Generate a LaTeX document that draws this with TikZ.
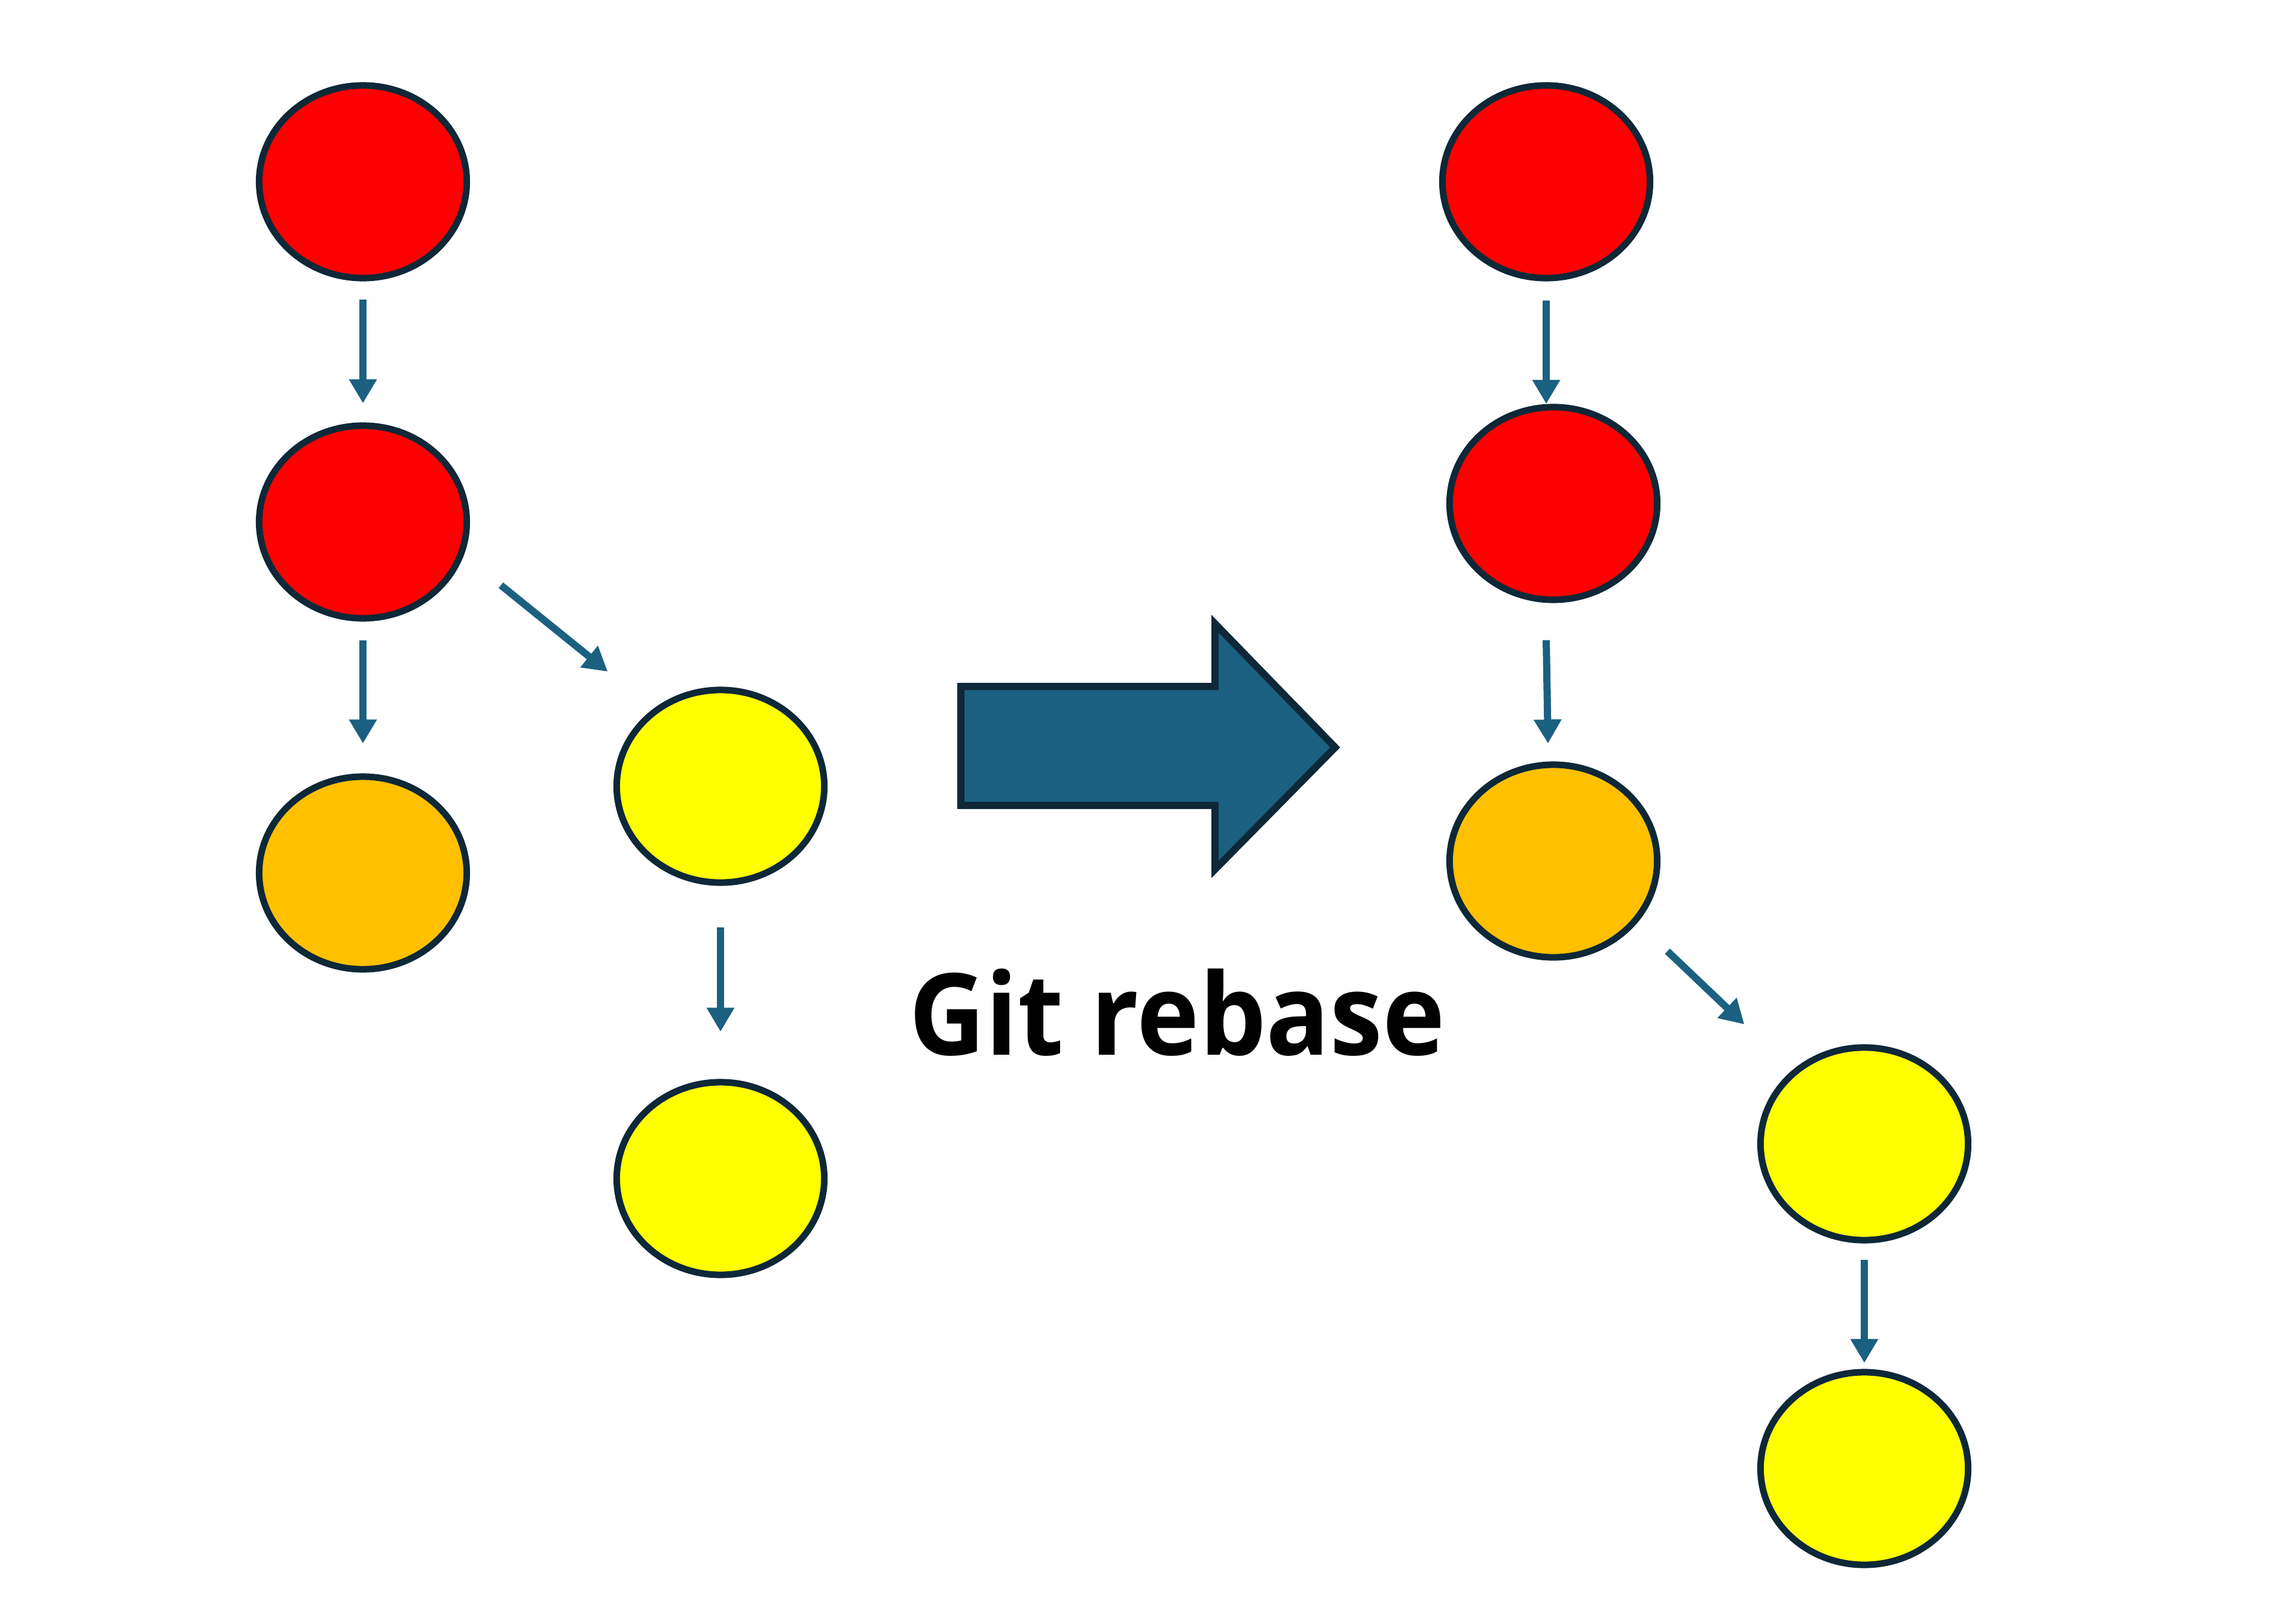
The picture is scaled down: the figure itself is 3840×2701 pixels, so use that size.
\documentclass[tikz,border=0pt]{standalone}
\usepackage{fontspec}
\newfontfamily\gitfont{Open Sans}[FakeStretch=0.93,BoldFeatures={FakeStretch=0.93}]
\usetikzlibrary{shapes.geometric,arrows.meta}
\definecolor{outl}{RGB}{14,40,56}
\definecolor{conn}{RGB}{27,96,128}
\definecolor{arrfill}{RGB}{27,96,128}
\definecolor{redc}{RGB}{255,0,0}
\definecolor{orc}{RGB}{255,192,0}
\definecolor{yelc}{RGB}{255,255,0}
\tikzset{
  commit/.style={ellipse,draw=outl,line width=0.11cm,minimum width=3.47cm,minimum height=3.22cm,inner sep=0pt},
  redcommit/.style={commit,fill=redc},
  orcommit/.style={commit,fill=orc},
  yelcommit/.style={commit,fill=yelc},
  link/.style={draw=conn,line width=0.12cm,-{Triangle[width=0.44cm,length=0.4cm]}},
  bigarrow/.style={fill=arrfill,draw=outl,line width=0.12cm,line join=miter}
}
\begin{document}
\begin{tikzpicture}[x=0.01cm,y=-0.01cm]
\useasboundingbox[fill=white] (0,0) rectangle (3840,2701);
% left
\node[redcommit] (lr1) at (607,304) {};
\node[redcommit] (lr2) at (607,873) {};
\node[orcommit]  (lo)  at (607,1460) {};
\node[yelcommit] (ly1) at (1205,1315) {};
\node[yelcommit] (ly2) at (1205,1971) {};
% right
\node[redcommit] (rr1) at (2586,304) {};
\node[redcommit] (rr2) at (2598,842) {};
\node[orcommit]  (ro)  at (2598,1440) {};
\node[yelcommit] (ry1) at (3118,1913) {};
\node[yelcommit] (ry2) at (3118,2456) {};
% connectors left
\draw[link] ([yshift=-0.30cm]lr1.south) -- ([yshift=0.32cm]lr2.north);
\draw[link] ([yshift=-0.31cm]lr2.south) -- ([yshift=0.50cm]lo.north);
\draw[link] ([xshift=1.04cm,yshift=0.12cm]lr2.south east) -- ([xshift=-0.62cm,yshift=0.74cm]ly1.north west);
\draw[link] ([yshift=-0.69cm]ly1.south) -- ([yshift=0.79cm]ly2.north);
% connectors right
\draw[link] ([yshift=-0.32cm]rr1.south) -- ([xshift=-0.12cm]rr2.north);
\draw[link] ([xshift=-0.12cm,yshift=-0.62cm]rr2.south) -- ([xshift=-0.09cm,yshift=0.30cm]ro.north);
\draw[link] ([xshift=0.64cm,yshift=-0.33cm]ro.south east) -- ([xshift=-0.74cm,yshift=0.82cm]ry1.north west);
\draw[link] ([yshift=-0.27cm]ry1.south) -- ([yshift=0.10cm]ry2.north);
% big arrow
\draw[bigarrow] (1607,1148) -- (2032,1148) -- (2032,1043) -- (2233,1250) -- (2032,1454) -- (2032,1347) -- (1607,1347) -- cycle;
\node[anchor=base west,inner sep=0pt,font=\gitfont\bfseries\fontsize{54}{60}\selectfont] (label) at (1520,1764) {Git rebase};
\end{tikzpicture}
\end{document}
